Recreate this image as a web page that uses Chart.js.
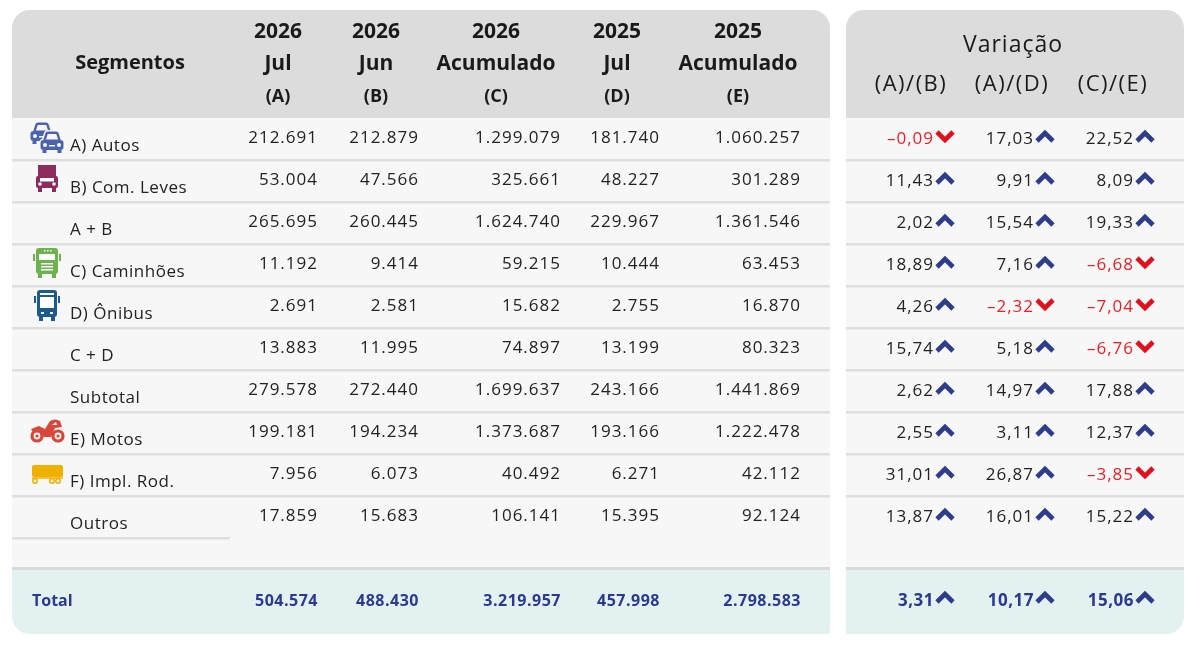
<!DOCTYPE html>
<html lang="pt-BR">
<head>
<meta charset="utf-8">
<title>Licenciamento por segmento</title>
<script src="https://cdn.jsdelivr.net/npm/chart.js@4.4.1/dist/chart.umd.min.js"></script>
<style>
  html, body { margin: 0; padding: 0; background: #ffffff; }
  #tabela { display: block; }
</style>
</head>
<body>
<canvas id="tabela" width="1200" height="646"></canvas>
<script>
// Dados da tabela
const segmentos = ["A) Autos", "B) Com. Leves", "A + B", "C) Caminhões", "D) Ônibus", "C + D", "Subtotal", "E) Motos", "F) Impl. Rod.", "Outros"];
const icones = ["autos", "leves", "", "caminhoes", "onibus", "", "", "motos", "implementos", ""];

const anos = ["2026", "2026", "2026", "2025", "2025"];
const periodos = ["Jul", "Jun", "Acumulado", "Jul", "Acumulado"];
const codigos = ["(A)", "(B)", "(C)", "(D)", "(E)"];
const variacoes = ["(A)/(B)", "(A)/(D)", "(C)/(E)"];

const jul2026 = [212691, 53004, 265695, 11192, 2691, 13883, 279578, 199181, 7956, 17859];
const jun2026 = [212879, 47566, 260445, 9414, 2581, 11995, 272440, 194234, 6073, 15683];
const acum2026 = [1299079, 325661, 1624740, 59215, 15682, 74897, 1699637, 1373687, 40492, 106141];
const jul2025 = [181740, 48227, 229967, 10444, 2755, 13199, 243166, 193166, 6271, 15395];
const acum2025 = [1060257, 301289, 1361546, 63453, 16870, 80323, 1441869, 1222478, 42112, 92124];

const varAB = [-0.09, 11.43, 2.02, 18.89, 4.26, 15.74, 2.62, 2.55, 31.01, 13.87];
const varAD = [17.03, 9.91, 15.54, 7.16, -2.32, 5.18, 14.97, 3.11, 26.87, 16.01];
const varCE = [22.52, 8.09, 19.33, -6.68, -7.04, -6.76, 17.88, 12.37, -3.85, 15.22];

const totais = [504574, 488430, 3219957, 457998, 2798583];
const totaisVar = [3.31, 10.17, 15.06];

const colunas = [jul2026, jun2026, acum2026, jul2025, acum2025];
const colunasVar = [varAB, varAD, varCE];

// linhas do eixo y: segmentos + linha vazia + total
const linhas = segmentos.concat(["", "Total"]);

const FONT = '"Open Sans", "DejaVu Sans", sans-serif';
const AZUL = "#2b3990";
const VERMELHO = "#ee1c24";
const FUNDO = "#f7f7f7";

// posicao das colunas (unidades do eixo x)
const colDireita = [318, 419, 561, 660, 801];
const colCentro = [278, 376, 496, 617, 738];
const varDireita = [934, 1034, 1134];
const varCentro = [911, 1012, 1113];

function fmtInt(n) {
  return String(n).replace(/\B(?=(\d{3})+(?!\d))/g, ".");
}

function fmtVar(v) {
  const s = Math.abs(v).toFixed(2).replace(".", ",");
  return v < 0 ? "\u2013" + s : s;
}

function painel(ctx, x0, y0, x1, y1, r) {
  // r = [topo-esq, topo-dir, baixo-dir, baixo-esq]
  ctx.beginPath();
  ctx.roundRect(x0, y0, x1 - x0, y1 - y0, r);
}

function texto(ctx, str, x, y, font, color, align, spacing) {
  ctx.font = font;
  ctx.fillStyle = color;
  ctx.textAlign = align;
  ctx.textBaseline = "middle";
  ctx.letterSpacing = spacing || "0px";
  ctx.fillText(str, x, y);
  ctx.letterSpacing = "0px";
}

function seta(ctx, x, y, sobe) {
  ctx.save();
  ctx.lineWidth = 4.6;
  ctx.lineJoin = "miter";
  ctx.lineCap = "butt";
  ctx.strokeStyle = sobe ? "#2e3c8c" : "#e3101b";
  ctx.beginPath();
  if (sobe) {
    ctx.moveTo(x - 8, y + 5);
    ctx.lineTo(x, y - 3);
    ctx.lineTo(x + 8, y + 5);
  } else {
    ctx.moveTo(x - 8, y - 4);
    ctx.lineTo(x, y + 4);
    ctx.lineTo(x + 8, y - 4);
  }
  ctx.stroke();
  ctx.restore();
}

// contorno do carro (teto + carroceria)
function silhuetaCarro(ctx, x, y) {
  ctx.beginPath();
  ctx.moveTo(x - 9, y - 1);
  ctx.lineTo(x - 6.5, y - 9);
  ctx.quadraticCurveTo(x - 6, y - 10.5, x - 4, y - 10.5);
  ctx.lineTo(x + 4, y - 10.5);
  ctx.quadraticCurveTo(x + 6, y - 10.5, x + 6.5, y - 9);
  ctx.lineTo(x + 9, y - 1);
  ctx.closePath();
  ctx.roundRect(x - 11.5, y - 2, 23, 10, 3);
  ctx.rect(x - 9.5, y + 7, 4, 4);
  ctx.rect(x + 5.5, y + 7, 4, 4);
}

// carro de frente, centrado em (x, y), ~23px de largura
function carro(ctx, x, y, cor) {
  ctx.fillStyle = cor;
  silhuetaCarro(ctx, x, y);
  ctx.fill("nonzero");
  ctx.fillStyle = FUNDO;
  ctx.beginPath();
  ctx.moveTo(x - 6, y - 2.5);
  ctx.lineTo(x - 4.3, y - 8);
  ctx.lineTo(x + 4.3, y - 8);
  ctx.lineTo(x + 6, y - 2.5);
  ctx.closePath();
  ctx.fill();
  ctx.beginPath();
  ctx.arc(x - 7, y + 3, 2, 0, Math.PI * 2);
  ctx.arc(x + 7, y + 3, 2, 0, Math.PI * 2);
  ctx.fill();
  ctx.fillRect(x - 3, y + 3, 6, 1.5);
}

function icone(ctx, tipo, x, y) {
  ctx.save();
  if (tipo === "autos") {
    const c = "#4b63ae";
    carro(ctx, x - 5, y - 4, c);
    // separa o carro da frente com uma borda da cor do fundo
    ctx.strokeStyle = FUNDO;
    ctx.fillStyle = FUNDO;
    ctx.lineWidth = 3;
    ctx.lineJoin = "round";
    silhuetaCarro(ctx, x + 5, y + 5);
    ctx.stroke();
    ctx.fill("nonzero");
    carro(ctx, x + 5, y + 5, c);
  } else if (tipo === "leves") {
    const c = "#8d2c5c";
    ctx.fillStyle = c;
    ctx.fillRect(x - 9, y - 14, 18, 11);
    ctx.beginPath();
    ctx.roundRect(x - 11, y - 3, 22, 12, 2);
    ctx.fill();
    ctx.fillRect(x - 9, y + 8, 4, 5);
    ctx.fillRect(x + 5, y + 8, 4, 5);
    ctx.fillStyle = "#ffffff";
    ctx.fillRect(x - 7, y - 1, 14, 3.5);
    ctx.beginPath();
    ctx.arc(x - 7, y + 5, 1.8, 0, Math.PI * 2);
    ctx.arc(x + 7, y + 5, 1.8, 0, Math.PI * 2);
    ctx.fill();
  } else if (tipo === "caminhoes") {
    const c = "#6cb24f";
    ctx.fillStyle = c;
    ctx.beginPath();
    ctx.roundRect(x - 11, y - 15, 22, 26, 3);
    ctx.fill();
    ctx.fillRect(x - 14, y - 9, 2, 7);
    ctx.fillRect(x + 12, y - 9, 2, 7);
    ctx.fillRect(x - 9, y + 11, 4, 4);
    ctx.fillRect(x + 5, y + 11, 4, 4);
    ctx.fillStyle = "#ffffff";
    ctx.fillRect(x - 8, y - 9, 16, 6);
    ctx.fillRect(x - 6, y, 12, 1.5);
    ctx.fillRect(x - 6, y + 3, 12, 1.5);
    ctx.fillRect(x - 6, y + 6, 12, 1.5);
    ctx.fillRect(x - 3, y - 13, 1.5, 1.5);
    ctx.fillRect(x, y - 13, 1.5, 1.5);
    ctx.fillRect(x + 3, y - 13, 1.5, 1.5);
  } else if (tipo === "onibus") {
    const c = "#1d5b8d";
    ctx.fillStyle = c;
    ctx.beginPath();
    ctx.roundRect(x - 10, y - 15, 20, 27, 3);
    ctx.fill();
    ctx.fillRect(x - 13, y - 9, 2, 7);
    ctx.fillRect(x + 11, y - 9, 2, 7);
    ctx.fillRect(x - 8, y + 12, 4, 4);
    ctx.fillRect(x + 4, y + 12, 4, 4);
    ctx.fillStyle = "#ffffff";
    ctx.fillRect(x - 7, y - 12, 14, 2);
    ctx.fillRect(x - 7, y - 8, 14, 11);
    ctx.fillRect(x - 6, y + 7, 3, 2);
    ctx.fillRect(x + 3, y + 7, 3, 2);
  } else if (tipo === "motos") {
    const c = "#d9473b";
    ctx.fillStyle = c;
    ctx.strokeStyle = c;
    ctx.lineWidth = 3.2;
    ctx.beginPath();
    ctx.arc(x - 10, y + 5, 5, 0, Math.PI * 2);
    ctx.stroke();
    ctx.beginPath();
    ctx.arc(x + 11, y + 5, 5, 0, Math.PI * 2);
    ctx.stroke();
    ctx.beginPath();
    ctx.moveTo(x - 16, y - 2);
    ctx.lineTo(x - 8, y - 5);
    ctx.lineTo(x - 2, y - 2);
    ctx.lineTo(x + 3, y - 10);
    ctx.quadraticCurveTo(x + 8, y - 13, x + 13, y - 10);
    ctx.lineTo(x + 15, y - 4);
    ctx.lineTo(x + 8, y - 3);
    ctx.lineTo(x + 4, y + 6);
    ctx.lineTo(x - 3, y + 6);
    ctx.lineTo(x - 9, y + 0);
    ctx.lineTo(x - 14, y + 1);
    ctx.closePath();
    ctx.fill();
    ctx.beginPath();
    ctx.arc(x - 10, y + 5, 1.6, 0, Math.PI * 2);
    ctx.arc(x + 11, y + 5, 1.6, 0, Math.PI * 2);
    ctx.fill();
    ctx.fillStyle = FUNDO;
    ctx.beginPath();
    ctx.moveTo(x + 5, y - 6);
    ctx.lineTo(x + 9, y - 9);
    ctx.lineTo(x + 10, y - 6);
    ctx.closePath();
    ctx.fill();
  } else if (tipo === "implementos") {
    const c = "#f0b000";
    ctx.fillStyle = c;
    ctx.beginPath();
    ctx.roundRect(x - 15, y - 8, 31, 12, 2);
    ctx.fill();
    ctx.strokeStyle = c;
    ctx.lineWidth = 1.5;
    ctx.beginPath();
    ctx.moveTo(x - 15, y + 5);
    ctx.lineTo(x + 16, y + 5);
    ctx.stroke();
    [x - 12, x + 5, x + 11].forEach((cx) => {
      ctx.beginPath();
      ctx.arc(cx, y + 8, 2.2, 0, Math.PI * 2);
      ctx.stroke();
    });
  }
  ctx.restore();
}

const tabelaPlugin = {
  id: "tabela",
  beforeDraw(chart) {
    const ctx = chart.ctx;
    const y = chart.scales.y;
    const passo = y.getPixelForValue(1) - y.getPixelForValue(0);
    const topo = y.getPixelForValue(0) - passo / 2;
    const yTotal = y.getPixelForValue(linhas.length - 1);
    const inicioTotal = yTotal - 33;
    const fundo = yTotal + 33;
    const painelTopo = 10;

    const paineis = [
      { x0: 12, x1: 830, r: [18, 18, 0, 18] },
      { x0: 846, x1: 1184, r: [18, 18, 18, 0] },
    ];

    ctx.save();
    paineis.forEach((p) => {
      ctx.save();
      painel(ctx, p.x0, painelTopo, p.x1, fundo, p.r);
      ctx.clip();
      ctx.fillStyle = FUNDO;
      ctx.fillRect(p.x0, painelTopo, p.x1 - p.x0, fundo - painelTopo);
      ctx.fillStyle = "#dcdcdc";
      ctx.fillRect(p.x0, painelTopo, p.x1 - p.x0, topo - painelTopo);
      ctx.fillStyle = "#e3f1f1";
      ctx.fillRect(p.x0, inicioTotal, p.x1 - p.x0, fundo - inicioTotal);
      ctx.fillStyle = "#d9d9d9";
      ctx.fillRect(p.x0, inicioTotal - 1, p.x1 - p.x0, 3);

      // separadores das linhas
      ctx.fillStyle = "#dedede";
      for (let i = 0; i < segmentos.length; i++) {
        const sep = y.getPixelForValue(i) + passo / 2;
        if (i === segmentos.length - 1) {
          if (p.x0 < 100) ctx.fillRect(p.x0, sep - 1, 230 - p.x0, 2.5);
        } else {
          ctx.fillRect(p.x0, sep - 1, p.x1 - p.x0, 2.5);
        }
      }
      ctx.restore();
    });
    ctx.restore();
  },
  afterDraw(chart) {
    const ctx = chart.ctx;
    const x = chart.scales.x;
    const y = chart.scales.y;
    const topo = y.getPixelForValue(0) - (y.getPixelForValue(1) - y.getPixelForValue(0)) / 2;

    ctx.save();
    // cabecalho
    texto(ctx, "Segmentos", x.getPixelForValue(130), topo - 55, "bold 20px " + FONT, "#1a1a1a", "center");
    for (let c = 0; c < anos.length; c++) {
      const cx = x.getPixelForValue(colCentro[c]);
      texto(ctx, anos[c], cx, topo - 86, "bold 21px " + FONT, "#1a1a1a", "center");
      texto(ctx, periodos[c], cx, topo - 54, "bold 21px " + FONT, "#1a1a1a", "center");
      texto(ctx, codigos[c], cx, topo - 21, "bold 18px " + FONT, "#1a1a1a", "center");
    }
    texto(ctx, "Variação", x.getPixelForValue(1013), topo - 73, "23px " + FONT, "#1a1a1a", "center", "1px");
    for (let c = 0; c < variacoes.length; c++) {
      texto(ctx, variacoes[c], x.getPixelForValue(varCentro[c]), topo - 33, "22px " + FONT, "#1a1a1a", "center", "1.5px");
    }

    // linhas
    for (let i = 0; i < segmentos.length; i++) {
      const cy = y.getPixelForValue(i);
      if (icones[i]) icone(ctx, icones[i], x.getPixelForValue(47), cy - 2);
      texto(ctx, segmentos[i], x.getPixelForValue(70), cy + 7, "17px " + FONT, "#222222", "left", "0.5px");
      for (let c = 0; c < colunas.length; c++) {
        texto(ctx, fmtInt(colunas[c][i]), x.getPixelForValue(colDireita[c]), cy - 1, "17px " + FONT, "#222222", "right", "1px");
      }
      for (let c = 0; c < colunasVar.length; c++) {
        const v = colunasVar[c][i];
        const rx = x.getPixelForValue(varDireita[c]);
        texto(ctx, fmtVar(v), rx, cy, "17px " + FONT, v < 0 ? VERMELHO : "#222222", "right", "1px");
        seta(ctx, rx + 11, cy - 3, v >= 0);
      }
    }

    // total
    const ty = y.getPixelForValue(linhas.length - 1);
    texto(ctx, "Total", x.getPixelForValue(32), ty, "bold 16px " + FONT, AZUL, "left");
    for (let c = 0; c < totais.length; c++) {
      texto(ctx, fmtInt(totais[c]), x.getPixelForValue(colDireita[c]), ty, "bold 16px " + FONT, AZUL, "right", "0.5px");
    }
    for (let c = 0; c < totaisVar.length; c++) {
      const rx = x.getPixelForValue(varDireita[c]);
      texto(ctx, fmtVar(totaisVar[c]), rx, ty, "bold 17px " + FONT, AZUL, "right", "0.5px");
      seta(ctx, rx + 11, ty - 4, totaisVar[c] >= 0);
    }
    ctx.restore();
  },
};

const ctx = document.getElementById("tabela").getContext("2d");
const tabela = new Chart(ctx, {
  type: "scatter",
  data: { labels: linhas, datasets: [] },
  options: {
    responsive: false,
    maintainAspectRatio: false,
    animation: false,
    devicePixelRatio: 1,
    layout: { padding: { top: 118, bottom: 24, left: 0, right: 0 } },
    plugins: { legend: { display: false }, tooltip: { enabled: false } },
    scales: {
      x: { type: "linear", min: 0, max: 1200, display: false },
      y: { type: "category", labels: linhas, offset: true, display: false },
    },
  },
  plugins: [tabelaPlugin],
});
</script>
</body>
</html>
